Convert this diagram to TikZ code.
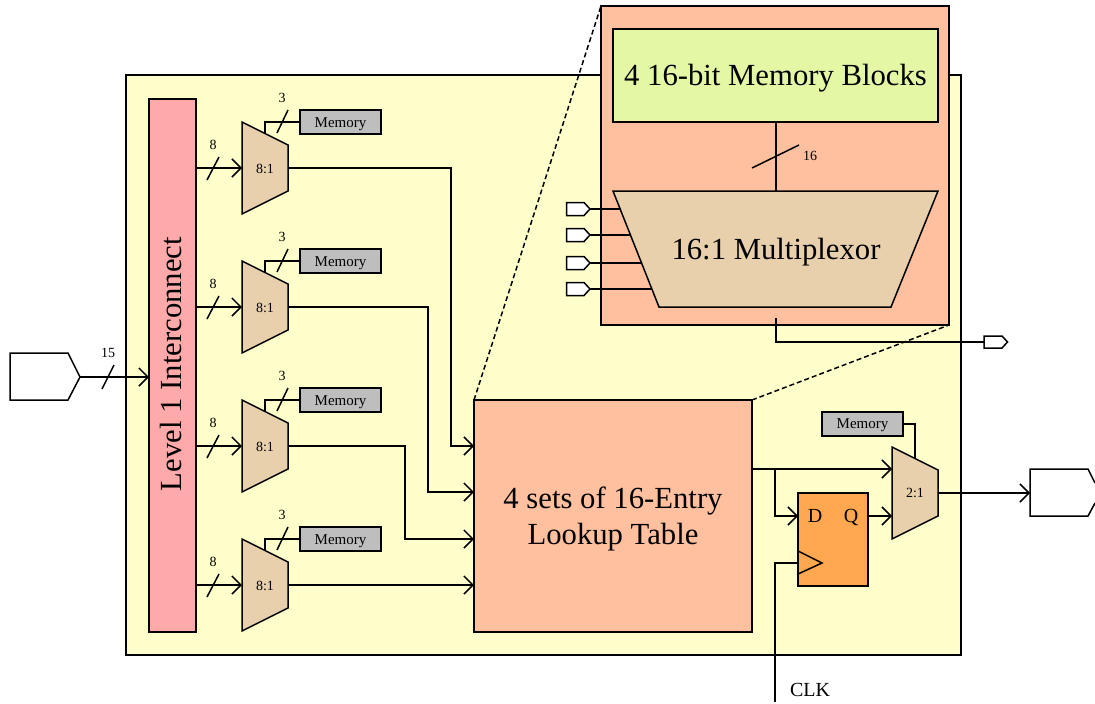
\documentclass[tikz,border=0pt]{standalone}
\usepackage{fontspec}
\setmainfont{Liberation Serif}
\usetikzlibrary{arrows.meta}
\definecolor{cyellow}{HTML}{FFFFCC}
\definecolor{cpink}{HTML}{FFAAAA}
\definecolor{csalmon}{HTML}{FFC0A0}
\definecolor{ctan}{HTML}{E8D0AC}
\definecolor{cgray}{HTML}{BEBEBE}
\definecolor{corange}{HTML}{FFA850}
\definecolor{cgreen}{HTML}{E3F7A4}
\newcommand{\fsbig}{\fontsize{30.7}{36}\selectfont}
\newcommand{\fsmid}{\fontsize{20}{24}\selectfont}
\newcommand{\fssmall}{\fontsize{14}{16}\selectfont}
\newcommand{\fsmem}{\fontsize{15}{16}\selectfont}
\tikzset{
  x=1pt,y=-1pt,
  every path/.style={line width=1.5pt},
  box/.style={draw=black,anchor=north west,inner sep=0pt,outer sep=0pt},
  poly/.style={draw=black,line join=miter},
  wire/.style={draw=black},
  arr/.style={draw=black,-{Straight Barb[length=9pt,width=18pt,line width=1.5pt]}},
  slashmark/.style={draw=black},
  lab/.style={inner sep=0pt,font=\fssmall},
  memlab/.style={inner sep=0pt,font=\fsmem},
  memorybox/.style={box,fill=cgray,minimum width=81pt,minimum height=24pt},
}
\begin{document}
\begin{tikzpicture}
\useasboundingbox (0,0) rectangle (1095,704);
% main block
\node[box,fill=cyellow,minimum width=835pt,minimum height=580pt] (main) at (126,75) {};
% inset
\node[box,fill=csalmon,minimum width=348pt,minimum height=319pt] (inset) at (601,6) {};
\node[box,fill=cgreen,minimum width=325pt,minimum height=93pt] (blocks) at (613,29) {};
\node[font=\fsbig,inner sep=0pt] (blockslabel) at (775.5,78) {4 16-bit Memory Blocks};
\coordinate (mA) at (613,191); \coordinate (mB) at (938,191);
\coordinate (mC) at (891,307); \coordinate (mD) at (659,307);
\fill[ctan] (mA)--(mB)--(mC)--(mD)--cycle;
\draw[poly] (mA)--(mB)--(mC)--(mD)--cycle;
\node[font=\fsbig,inner sep=0pt] (mlabel) at (776,252) {16:1 Multiplexor};
% level 1
\node[box,fill=cpink,minimum width=47pt,minimum height=533pt] (l1) at (149,99) {};
\node[font=\fsbig,inner sep=0pt,rotate=90] (l1label) at (170.5,364) {Level 1 Interconnect};
% input pad
\coordinate (inA) at (10,353); \coordinate (inB) at (68,353); \coordinate (inT) at (80,377);
\coordinate (inC) at (68,400); \coordinate (inD) at (10,400);
\draw[poly,fill=white] (inA)--(inB)--(inT)--(inC)--(inD)--cycle;
\coordinate (l1in) at (149,377);
\draw[arr] (inT)--(l1in);
\coordinate (sA) at (102,389); \coordinate (sB) at (114,365);
\draw[slashmark] (sA)--(sB);
\node[lab] (n15) at (108,353) {15};
% four 8:1 muxes
\foreach \i/\c in {1/168,2/307,3/446,4/585}{
  \coordinate (a\i) at (242,\c-46);
  \coordinate (b\i) at (288,\c-23);
  \coordinate (c\i) at (288,\c+23);
  \coordinate (d\i) at (242,\c+46);
  \coordinate (w\i) at (242,\c);
  \coordinate (o\i) at (288,\c);
  \coordinate (sel\i) at (265,\c-34.5);
  \coordinate (selup\i) at (265,\c-46);
  \draw[poly,fill=ctan] (a\i)--(b\i)--(c\i)--(d\i)--cycle;
  \node[lab] (mux\i) at (265,\c+1) {8:1};
  \coordinate (lw\i) at (196,\c);
  \draw[arr] (lw\i)--(w\i);
  \coordinate (slA\i) at (207,\c+12); \coordinate (slB\i) at (219,\c-11);
  \draw[slashmark] (slA\i)--(slB\i);
  \node[lab] (eight\i) at (213,\c-23) {8};
  \node[memorybox] (mem\i) at (300,\c-58) {};
  \node[memlab] (memlab\i) at (340.5,\c-43.5) {Memory};
  \draw[wire] (sel\i)--(selup\i)--(mem\i.west);
  \coordinate (stA\i) at (277,\c-35); \coordinate (stB\i) at (288,\c-58);
  \draw[slashmark] (stA\i)--(stB\i);
  \node[lab] (three\i) at (282,\c-70) {3};
}
% LUT
\node[box,fill=csalmon,minimum width=278pt,minimum height=232pt] (lut) at (474,400) {};
\node[font=\fsbig,align=center,inner sep=0pt] (lutlabel) at (613,519) {4 sets of 16-Entry\\Lookup Table};
% mux to LUT
\coordinate (t1) at (474,446); \coordinate (t2) at (474,492);
\coordinate (t3) at (474,539); \coordinate (t4) at (474,585);
\draw[arr] (o1)-|(451,446)--(t1);
\draw[arr] (o2)-|(428,492)--(t2);
\draw[arr] (o3)-|(405,539)--(t3);
\draw[arr] (o4)--(t4);
% dashed zoom lines
\draw[dashed,dash pattern=on 5pt off 3pt] (lut.north west)--(inset.north west);
\draw[dashed,dash pattern=on 5pt off 3pt] (lut.north east)--(inset.south east);
% inset wiring
\coordinate (mtop) at (776,191);
\draw[wire] (blocks.south -| mtop)--(mtop);
\coordinate (s16A) at (752,168); \coordinate (s16B) at (799,145);
\draw[slashmark] (s16A)--(s16B);
\node[lab] (n16) at (810,156) {16};
\foreach \i/\c/\e in {1/209/621,2/235/630,3/263/641,4/289/651}{
  \coordinate (pA\i) at (566.5,\c-6.5); \coordinate (pB\i) at (584,\c-6.5);
  \coordinate (pT\i) at (590,\c);
  \coordinate (pC\i) at (584,\c+6.5); \coordinate (pD\i) at (566.5,\c+6.5);
  \coordinate (pE\i) at (\e,\c);
  \draw[poly,fill=white] (pA\i)--(pB\i)--(pT\i)--(pC\i)--(pD\i)--cycle;
  \draw[wire] (pT\i)--(pE\i);
}
% inset output
\coordinate (uS) at (776,318); \coordinate (uE) at (984,342);
\coordinate (uA) at (984,336); \coordinate (uB) at (1002,336); \coordinate (uT) at (1007.5,342);
\coordinate (uC) at (1002,348); \coordinate (uD) at (984,348);
\draw[poly,fill=white] (uA)--(uB)--(uT)--(uC)--(uD)--cycle;
\draw[wire] (uS)|-(uE);
% 2:1 mux
\coordinate (xa) at (892,447); \coordinate (xb) at (938,470);
\coordinate (xc) at (938,516); \coordinate (xd) at (892,539);
\draw[poly,fill=ctan] (xa)--(xb)--(xc)--(xd)--cycle;
\node[lab] (xlabel) at (915,493) {2:1};
\node[memorybox] (xmem) at (822,412) {};
\node[memlab] (xmemlab) at (862.5,425.5) {Memory};
\coordinate (xup) at (915,458);
\draw[wire] (xmem.east)-|(xup);
% flip-flop
\node[box,fill=corange,minimum width=70pt,minimum height=93pt] (ff) at (798,493) {};
\node[font=\fsmid,inner sep=0pt] (dl) at (815,516) {D};
\node[font=\fsmid,inner sep=0pt] (ql) at (851,517) {Q};
\coordinate (ckA) at (798,551); \coordinate (ckT) at (822,563); \coordinate (ckB) at (798,574);
\draw[poly] (ckA)--(ckT)--(ckB);
% LUT outputs
\coordinate (lo) at (752,469); \coordinate (xi1) at (892,469);
\coordinate (br) at (775,469); \coordinate (di) at (798,516);
\coordinate (qo) at (868,516); \coordinate (xi2) at (892,516);
\draw[arr] (lo)--(xi1);
\draw[arr] (br)|-(di);
\draw[arr] (qo)--(xi2);
\coordinate (ckin) at (798,563); \coordinate (ckend) at (775,702);
\draw[wire] (ckin)-|(ckend);
\node[font=\fsmid,inner sep=0pt] (clk) at (810,690) {CLK};
% output pad
\coordinate (oA) at (1095,483); \coordinate (oB) at (1088,469); \coordinate (oC) at (1030,469);
\coordinate (oD) at (1030,516); \coordinate (oE) at (1088,516); \coordinate (oF) at (1095,503);
\draw[poly] (oA)--(oB)--(oC)--(oD)--(oE)--(oF);
\coordinate (xo) at (938,493); \coordinate (oi) at (1030,493);
\draw[arr] (xo)--(oi);
\end{tikzpicture}
\end{document}
